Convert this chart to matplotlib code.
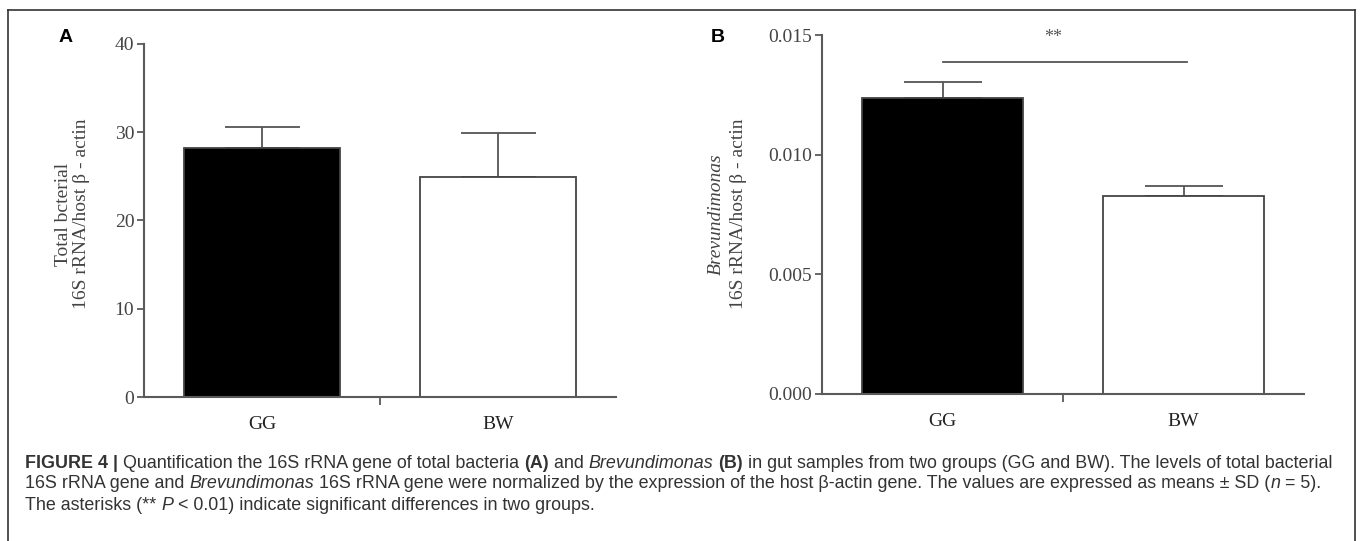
import matplotlib
matplotlib.use("Agg")
import matplotlib.pyplot as plt
from matplotlib.lines import Line2D
from matplotlib.font_manager import FontProperties

# ---------------- data ----------------
groups = ["GG", "BW"]
total_mean = [28.2, 24.9]
total_sd = [2.4, 5.0]
brev_mean = [0.01237, 0.00828]
brev_sd = [0.00068, 0.00042]
total_yticks = [0, 10, 20, 30, 40]
brev_yticks = [0.000, 0.005, 0.010, 0.015]
brev_ytick_labels = ["0.000", "0.005", "0.010", "0.015"]
sig_text = "**"
sig_level = 0.01387

W, H = 1360, 541
fig = plt.figure(figsize=(W / 100, H / 100), dpi=100)
fig.patch.set_facecolor("white")

SERIF = "Liberation Serif"
SANS = "Liberation Sans"
AX_COL = "#5a5a5a"
TXT_COL = "#333333"


def px_ax(l, r, t, b):
    return [l / W, 1 - b / H, (r - l) / W, (b - t) / H]


def style_axis(ax, ymax):
    for s in ("top", "right"):
        ax.spines[s].set_visible(False)
    for s in ("left", "bottom"):
        ax.spines[s].set_color(AX_COL)
        ax.spines[s].set_linewidth(1.5)
    ax.set_xlim(-0.5, 1.5)
    ax.set_ylim(0, ymax)
    ax.tick_params(axis="y", direction="out", length=5, width=1.3, color=AX_COL,
                   labelsize=14, labelcolor="#444444", pad=2)
    ax.set_xticks([0, 1])
    ax.set_xticklabels(groups, fontfamily=SERIF, fontsize=14, color="#222222")
    ax.tick_params(axis="x", which="major", length=0, pad=14)
    ax.set_xticks([0.5], minor=True)
    ax.tick_params(axis="x", which="minor", direction="out", length=6, width=1.3, color=AX_COL)
    for lab in ax.get_yticklabels():
        lab.set_fontfamily(SERIF)


def draw_bars(ax, means, sds, capsize):
    colors = ["black", "white"]
    ax.bar(range(len(means)), means, width=0.665, color=colors,
           edgecolor="#444444", linewidth=1.3, zorder=2)
    for i, (m, s) in enumerate(zip(means, sds)):
        ax.errorbar(i, m, yerr=[[0], [s]], fmt="none", ecolor="#555555",
                    elinewidth=1.3, capsize=capsize, capthick=1.3, zorder=1)


# ---------------- panel A ----------------
axA = fig.add_axes(px_ax(144, 616, 44, 397))
draw_bars(axA, total_mean, total_sd, 27)
style_axis(axA, 40)
axA.set_yticks(total_yticks)
axA.set_yticklabels([str(v) for v in total_yticks], fontfamily=SERIF)

# ---------------- panel B ----------------
axB = fig.add_axes(px_ax(822, 1304, 35, 394))
draw_bars(axB, brev_mean, brev_sd, 28)
style_axis(axB, 0.015)
axB.set_yticks(brev_yticks)
axB.set_yticklabels(brev_ytick_labels, fontfamily=SERIF)
axB.plot([0, 1.015], [sig_level, sig_level], color="#555555", lw=1.3, clip_on=False)
axB.text(0.46, 0.0149, sig_text, ha="center", va="center", fontsize=13,
         color="#555555", fontfamily=SERIF)

# y labels (two lines, rotated)
def ftext(x, y, s, **kw):
    fig.text(x / W, 1 - y / H, s, rotation=90, ha="center", va="center", **kw)

ftext(63, 214, "Total bcterial", fontfamily=SERIF, fontsize=14, color="#444444")
ftext(82, 214, "16S rRNA/host β - actin", fontfamily=SERIF, fontsize=14, color="#444444")
ftext(716, 214, "Brevundimonas", fontfamily=SERIF, fontsize=14, style="italic", color="#444444")
ftext(739, 214, "16S rRNA/host β - actin", fontfamily=SERIF, fontsize=14, color="#444444")

# panel letters
fig.text(66 / W, 1 - 38 / H, "A", fontfamily=SANS, fontweight="bold", fontsize=14,
         ha="center", va="center", color="black")
fig.text(718 / W, 1 - 37 / H, "B", fontfamily=SANS, fontweight="bold", fontsize=14,
         ha="center", va="center", color="black")

# frame
fc = "#333333"
fig.add_artist(Line2D([8 / W, 8 / W], [0, 1 - 10 / H], color=fc, lw=1.2))
fig.add_artist(Line2D([8 / W, 1355 / W], [1 - 10 / H, 1 - 10 / H], color=fc, lw=1.2))
fig.add_artist(Line2D([1355 / W, 1355 / W], [0, 1 - 10 / H], color=fc, lw=1.2))

# ---------------- caption ----------------
renderer = fig.canvas.get_renderer()
CAP_SIZE = 12.9


def seg_width(s, prop):
    w1, _, _ = renderer.get_text_width_height_descent("x" + s + "x", prop, ismath=False)
    w0, _, _ = renderer.get_text_width_height_descent("xx", prop, ismath=False)
    return w1 - w0


def rich_line(x_px, y_px, segments):
    x = x_px
    for s, wt, st in segments:
        prop = FontProperties(family=SANS, weight=wt, style=st, size=CAP_SIZE)
        fig.text(x / W, 1 - y_px / H, s, fontproperties=prop, ha="left",
                 va="center", color=TXT_COL)
        x += seg_width(s, prop)


N, B, I = ("normal", "normal"), ("bold", "normal"), ("normal", "italic")
line1 = [("FIGURE 4 | ", *B), ("Quantification the 16S rRNA gene of total bacteria ", *N),
         ("(A)", *B), (" and ", *N), ("Brevundimonas", *I), (" ", *N), ("(B)", *B),
         (" in gut samples from two groups (GG and BW). The levels of total bacterial", *N)]
line2 = [("16S rRNA gene and ", *N), ("Brevundimonas", *I),
         (" 16S rRNA gene were normalized by the expression of the host β-actin gene. The values are expressed as means ± SD (", *N),
         ("n", *I), (" = 5).", *N)]
line3 = [("The asterisks (** ", *N), ("P", *I), (" < 0.01) indicate significant differences in two groups.", *N)]

rich_line(25, 463, line1)
rich_line(25, 484, line2)
rich_line(25, 505, line3)

fig.savefig("out.png", dpi=100, facecolor="white")
